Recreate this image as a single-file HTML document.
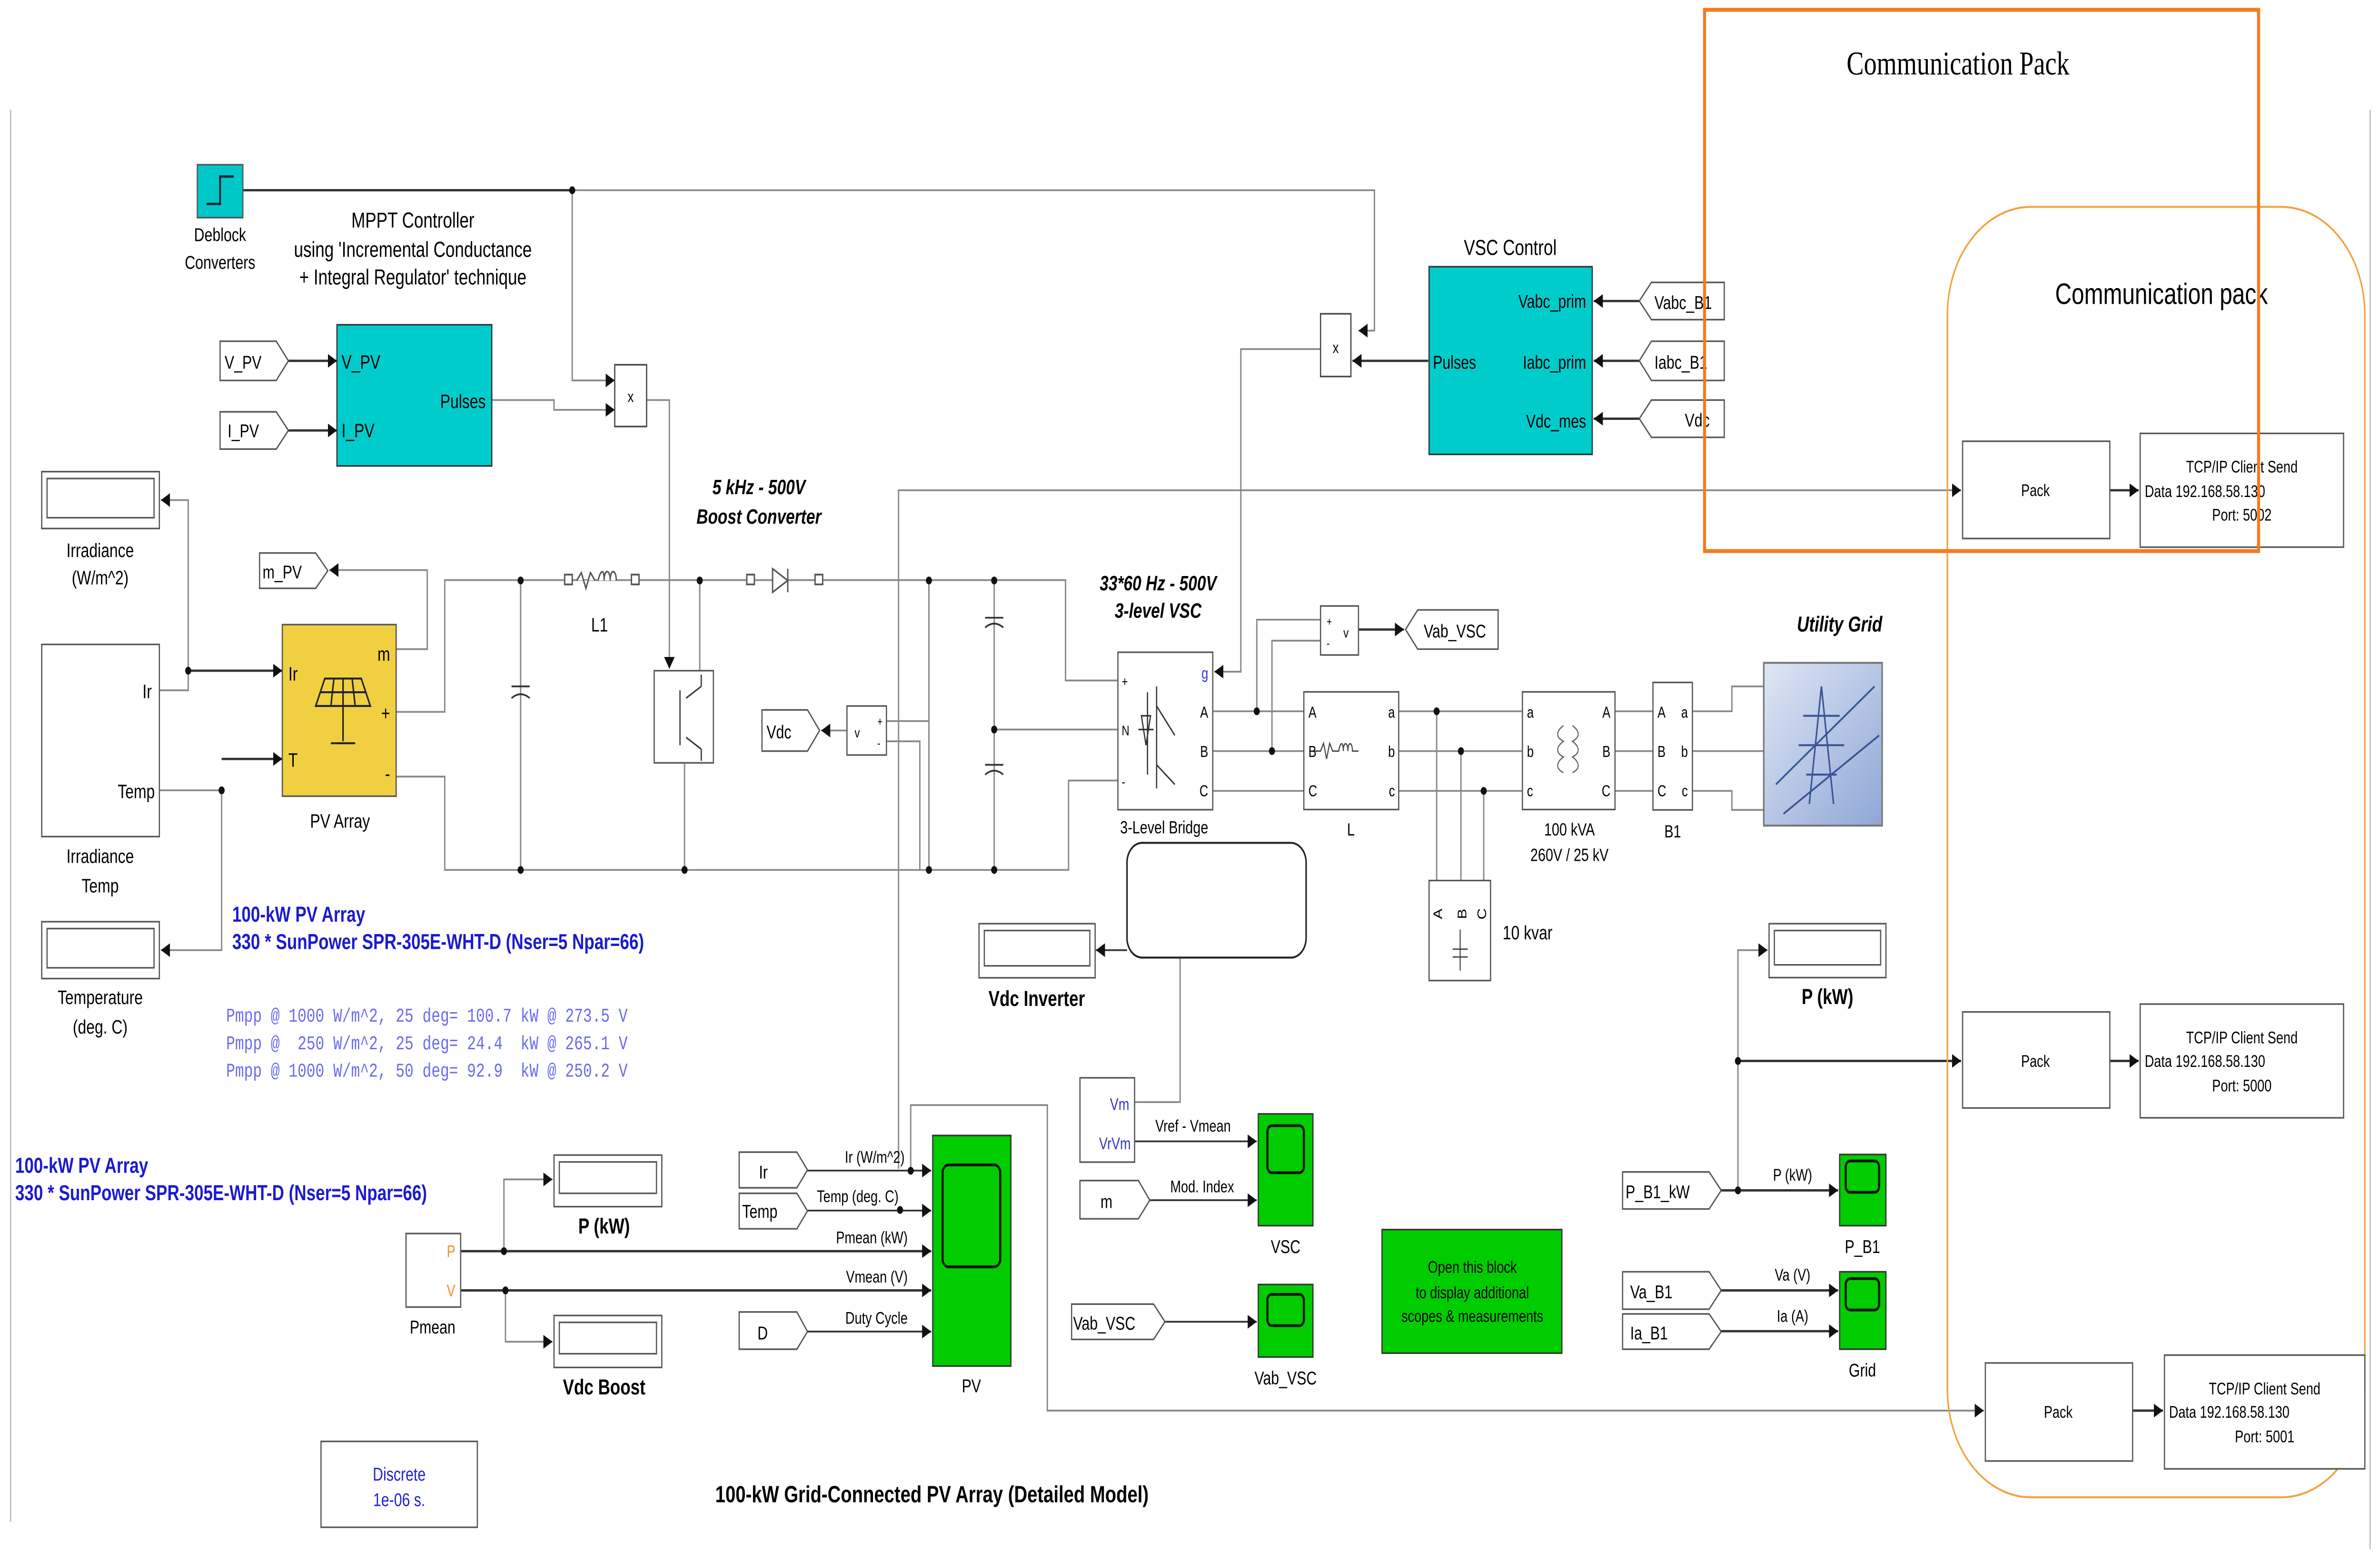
<!DOCTYPE html>
<html><head><meta charset="utf-8"><style>
html,body{margin:0;padding:0;background:#fff;overflow:hidden;width:100vw;height:100vh;}
svg{display:block;position:fixed;left:0;top:0;width:100vw;height:100vh;}
text{font-family:"Liberation Sans",sans-serif;}
.blue{fill:#1a1ad0;}
.mono{font-family:"Liberation Mono",monospace;fill:#6a6af0;}
.orange{fill:#f39020;}
.dblue{fill:#2222d0;}
.vm{fill:#33c;}
</style></head><body>
<svg viewBox="0 0 1568 791.4" preserveAspectRatio="none" xmlns="http://www.w3.org/2000/svg">
<defs>
<marker id="a" markerUnits="userSpaceOnUse" markerWidth="7" markerHeight="7" refX="6" refY="3.5" orient="auto"><path d="M0,0 L6,3.5 L0,7 z" fill="#111"/></marker>
<linearGradient id="g" x1="0" y1="0" x2="1" y2="1"><stop offset="0" stop-color="#dfe7f5"/><stop offset="1" stop-color="#8fa6d6"/></linearGradient>
</defs>
<rect width="1568" height="792" fill="#fff"/>
<line x1="7" y1="56" x2="7" y2="776" stroke="#bbb" stroke-width="0.8"/>
<line x1="1561.5" y1="56" x2="1561.5" y2="790" stroke="#bbb" stroke-width="0.8"/>

<g fill="none" stroke="#888" stroke-width="0.9">
<path d="M160,97 H377" stroke="#333" stroke-width="1.2"/>
<path d="M377,97 H905.5 V168.6 H895" marker-end="url(#a)"/>
<path d="M377,97 V194 H405" marker-end="url(#a)"/>
<path d="M324,204 H365 V209 H405" marker-end="url(#a)"/>
<path d="M426,204 H441 V341" marker-end="url(#a)"/>
<path d="M190,184 H222" stroke="#333" stroke-width="1.2" marker-end="url(#a)"/>
<path d="M190,219.5 H222" stroke="#333" stroke-width="1.2" marker-end="url(#a)"/>
<path d="M105,352 H124 V255 H106" marker-end="url(#a)"/>
<path d="M124,342 H186" stroke="#333" stroke-width="1.2" marker-end="url(#a)"/>
<path d="M105,403 H146 V484.5 H106" marker-end="url(#a)"/>
<path d="M146,387 H186" stroke="#333" stroke-width="1.2" marker-end="url(#a)"/>
<path d="M261,331 H281.5 V290.7 H217" marker-end="url(#a)"/>
<path d="M261,363 H293 V295.8 H702 V347 H736"/>
<path d="M261,396 H293 V443.6 H704 V398 H736"/>
<path d="M655,372 H736"/>
<path d="M343,296 V443.6 M461,296 V342 M451,389 V443.6 M612,296 V443.6 M655,296 V443.6"/>
<path d="M584,367.7 H612 M584,378 H606 V443.6"/>
<path d="M558,372.5 H541" marker-end="url(#a)"/>
<path d="M592,596 V250 H1292" marker-end="url(#a)"/>
<path d="M1390,250 H1409" stroke="#333" stroke-width="1.2" marker-end="url(#a)"/>
<path d="M941,184 H891" stroke="#333" stroke-width="1.2" marker-end="url(#a)"/>
<path d="M870,178 H817.5 V342.5 H800" marker-end="url(#a)"/>
<path d="M1080,153.5 H1050" stroke="#333" stroke-width="1.2" marker-end="url(#a)"/>
<path d="M1080,184 H1050" stroke="#333" stroke-width="1.2" marker-end="url(#a)"/>
<path d="M1080,213.5 H1050" stroke="#333" stroke-width="1.2" marker-end="url(#a)"/>
<path d="M799,362.7 H859 M799,383 H859 M799,403.3 H859"/>
<path d="M921.5,362.7 H1003 M921.5,383 H1003 M921.5,403.3 H1003"/>
<path d="M1064,362.7 H1089 M1064,383 H1089 M1064,403.3 H1089"/>
<path d="M1115,362.7 H1141 V350 H1162 M1115,383 H1162 M1115,403.3 H1141 V413 H1162"/>
<path d="M946.5,362.7 V449 M962.5,383 V449 M977.5,403.3 V449"/>
<path d="M870,316 H828 V362.7 M870,326.7 H838 V383"/>
<path d="M895,321 H925" stroke="#333" stroke-width="1.2" marker-end="url(#a)"/>
<path d="M742.5,484.5 H722" stroke="#333" marker-end="url(#a)"/>
<path d="M747.5,562 H777.5 V488.3"/>
<path d="M747.5,582 H828" stroke="#333" marker-end="url(#a)"/>
<path d="M757.5,612 H828" stroke="#333" marker-end="url(#a)"/>
<path d="M767.5,674 H828" stroke="#333" marker-end="url(#a)"/>
<path d="M1134,607 H1211" stroke="#333" stroke-width="1.2" marker-end="url(#a)"/>
<path d="M1145,607 V484.5 H1164.5" marker-end="url(#a)"/>
<path d="M1145,541 H1292" stroke="#333" stroke-width="1.2" marker-end="url(#a)"/>
<path d="M1390,541 H1409" stroke="#333" stroke-width="1.2" marker-end="url(#a)"/>
<path d="M1134,658 H1211" stroke="#333" stroke-width="1.2" marker-end="url(#a)"/>
<path d="M1134,678.8 H1211" stroke="#333" stroke-width="1.2" marker-end="url(#a)"/>
<path d="M600,597 V563.5 H690 V719.3 H1307" marker-end="url(#a)"/>
<path d="M1405,719.3 H1425" stroke="#333" stroke-width="1.2" marker-end="url(#a)"/>
<path d="M303.5,638 H613.5" stroke="#333" stroke-width="1.2" marker-end="url(#a)"/>
<path d="M303.5,658 H613.5" stroke="#333" stroke-width="1.2" marker-end="url(#a)"/>
<path d="M332,638 V601.4 H364" marker-end="url(#a)"/>
<path d="M333,658 V684.2 H364" marker-end="url(#a)"/>
<path d="M532,596.9 H613.5" stroke="#333" marker-end="url(#a)"/>
<path d="M532,617.3 H613.5" stroke="#333" marker-end="url(#a)"/>
<path d="M532,679 H613.5" stroke="#333" marker-end="url(#a)"/>
</g>
<g fill="#111">
<circle cx="377" cy="97" r="2"/><circle cx="124" cy="342" r="2"/><circle cx="146" cy="403" r="2"/>
<circle cx="343" cy="296" r="2"/><circle cx="461" cy="296" r="2"/><circle cx="612" cy="296" r="2"/><circle cx="655" cy="296" r="2"/>
<circle cx="343" cy="443.6" r="2"/><circle cx="451" cy="443.6" r="2"/><circle cx="612" cy="443.6" r="2"/><circle cx="655" cy="443.6" r="2"/><circle cx="655" cy="372" r="2"/>
<circle cx="828" cy="362.7" r="2"/><circle cx="838" cy="383" r="2"/><circle cx="946.5" cy="362.7" r="2"/><circle cx="962.5" cy="383" r="2"/><circle cx="977.5" cy="403.3" r="2"/>
<circle cx="1145" cy="607" r="2"/><circle cx="1145" cy="541" r="2"/><circle cx="332" cy="638" r="2"/><circle cx="333" cy="658" r="2"/>
<circle cx="600" cy="597" r="2"/><circle cx="593" cy="617" r="2"/>
</g>
<g stroke="#555" fill="none" stroke-width="0.9">
<rect x="372" y="293" width="5" height="5" fill="#fff"/><rect x="416" y="293" width="5" height="5" fill="#fff"/>
<path d="M380,296 l3,-4 l3,8 l3,-8 l3,4 M394,296 c2,-6 4,-6 4,0 c0,-6 4,-6 4,0 c0,-6 4,-6 4,0" fill="#fff"/>
<rect x="492" y="293" width="5" height="5" fill="#fff"/><rect x="537" y="293" width="5" height="5" fill="#fff"/>
<path d="M509,290 V302 L519,296 Z M519,290 V302" fill="#fff"/>
<path d="M337,350 H349 M337,356 q6,-4 12,0" stroke="#333"/>
<path d="M649,315 H661 M649,320 q6,-4 12,0 M649,390 H661 M649,395 q6,-4 12,0" stroke="#333"/>
</g>
<rect x="130" y="84" width="30" height="27" fill="#00c8c8" stroke="#555" stroke-width="0.8"/>
<path d="M136,104 H145 V90 H154" stroke="#123" fill="none" stroke-width="1.2"/>
<text x="145" y="123" font-size="9.5" text-anchor="middle">Deblock</text>
<text x="145" y="137" font-size="9.5" text-anchor="middle">Converters</text>
<text x="272" y="116" font-size="11" text-anchor="middle">MPPT Controller</text>
<text x="272" y="131" font-size="11" text-anchor="middle">using  'Incremental Conductance</text>
<text x="272" y="145" font-size="11" text-anchor="middle">+ Integral Regulator'  technique</text>
<rect x="222" y="165.6" width="102" height="72" fill="#00cccc" stroke="#333" stroke-width="0.8"/>
<text x="225" y="188" font-size="10">V_PV</text><text x="225" y="223" font-size="10">I_PV</text>
<text x="320" y="208" font-size="10" text-anchor="end">Pulses</text>
<rect x="405" y="186" width="21" height="31.5" fill="#fff" stroke="#444" stroke-width="0.8"/><text x="415.5" y="205" font-size="8" text-anchor="middle">x</text>
<rect x="870" y="160" width="20" height="32" fill="#fff" stroke="#444" stroke-width="0.8"/><text x="880" y="180" font-size="8" text-anchor="middle">x</text>
<g fill="#fff" stroke="#555" stroke-width="0.8">
<polygon points="145,174 182,174 190,184 182,194 145,194"/>
<polygon points="145,210 182,210 190,219.5 182,229 145,229"/>
<polygon points="171,282 208,282 216,291 208,300 171,300"/>
<polygon points="502,362 532,362 540,372.5 532,383 502,383"/>
<polygon points="926,321 934,311 987,311 987,331 934,331"/>
<polygon points="1080,153.5 1088,144 1136,144 1136,163 1088,163"/>
<polygon points="1080,184 1088,174 1136,174 1136,194 1088,194"/>
<polygon points="1080,213.5 1088,204 1136,204 1136,223 1088,223"/>
<polygon points="487,587.5 525,587.5 532,596.6 525,605.7 487,605.7"/>
<polygon points="487,608.5 525,608.5 532,617.5 525,626.6 487,626.6"/>
<polygon points="487,669 525,669 532,679 525,688 487,688"/>
<polygon points="711.5,602 750,602 757.5,612 750,621.5 711.5,621.5"/>
<polygon points="706,665 760,665 767.5,674 760,683 706,683"/>
<polygon points="1069,597.6 1126,597.6 1134,607 1126,616.5 1069,616.5"/>
<polygon points="1069,648.5 1126,648.5 1134,658 1126,667.6 1069,667.6"/>
<polygon points="1069,670 1126,670 1134,679 1126,688 1069,688"/>
</g>
<g font-size="9.5">
<text x="148" y="188">V_PV</text><text x="150" y="223">I_PV</text><text x="173" y="295">m_PV</text>
<text x="505" y="376.5">Vdc</text><text x="938" y="325">Vab_VSC</text>
<text x="1090" y="157.5">Vabc_B1</text><text x="1090" y="188">Iabc_B1</text><text x="1110" y="217.5">Vdc</text>
<text x="500" y="601">Ir</text><text x="489" y="621">Temp</text><text x="499" y="683">D</text>
<text x="725" y="616">m</text><text x="707" y="678">Vab_VSC</text>
<text x="1071" y="611">P_B1_kW</text><text x="1074" y="662">Va_B1</text><text x="1074" y="683">Ia_B1</text>
</g>
<g fill="#fff" stroke="#555" stroke-width="0.8">
<rect x="27.5" y="240.5" width="77.5" height="29"/><rect x="31" y="244" width="70.5" height="20"/>
<rect x="27.5" y="470" width="77.5" height="29"/><rect x="31" y="473.5" width="70.5" height="20"/>
<rect x="645" y="471" width="76.5" height="27.6"/><rect x="648.5" y="474.5" width="69.5" height="18"/>
<rect x="365" y="589" width="71" height="26.3"/><rect x="368.5" y="592.5" width="64" height="16"/>
<rect x="365" y="670.8" width="71" height="26.5"/><rect x="368.5" y="674.3" width="64" height="16"/>
<rect x="1165.5" y="471" width="77" height="27.5"/><rect x="1169" y="474.5" width="70" height="17.5"/>
<rect x="27.5" y="328.6" width="77.5" height="98"/>
</g>
<g font-size="10" text-anchor="middle">
<text x="66" y="284">Irradiance</text><text x="66" y="298">(W/m^2)</text>
<text x="66" y="440">Irradiance</text><text x="66" y="455">Temp</text>
<text x="66" y="512">Temperature</text><text x="66" y="527">(deg. C)</text>
</g>
<text x="100" y="356" font-size="10" text-anchor="end">Ir</text>
<text x="102" y="407" font-size="10" text-anchor="end">Temp</text>
<rect x="186" y="318.5" width="75" height="87.5" fill="#f0d040" stroke="#555" stroke-width="0.8"/>
<text x="190" y="347" font-size="10">Ir</text><text x="190" y="391" font-size="10">T</text>
<text x="257" y="337" font-size="10" text-anchor="end">m</text><text x="257" y="367" font-size="10" text-anchor="end">+</text><text x="257" y="398" font-size="10" text-anchor="end">-</text>
<g stroke="#222" stroke-width="1" fill="none"><path d="M208,360 L214,346 H238 L244,360 Z M211,353 H241 M220,346 L218,360 M226,346 V360 M232,346 L234,360 M226,360 V378 M218,379 H234"/></g>
<text x="224" y="422" font-size="10" text-anchor="middle">PV Array</text>
<text x="395" y="322" font-size="10" text-anchor="middle">L1</text>
<rect x="431" y="342" width="39" height="47" fill="#fff" stroke="#555" stroke-width="0.8"/>
<path d="M448,352 V380 M452,356 L462,350 M452,376 L462,382 M462,350 V344 M462,382 V388" stroke="#333" fill="none" stroke-width="0.8"/>
<text x="500" y="252" font-size="10.5" font-weight="bold" font-style="italic" text-anchor="middle">5 kHz - 500V</text>
<text x="500" y="267" font-size="10.5" font-weight="bold" font-style="italic" text-anchor="middle">Boost Converter</text>
<rect x="558" y="360" width="26" height="25" fill="#fff" stroke="#555" stroke-width="0.8"/><text x="563" y="376" font-size="7">v</text><text x="578" y="370" font-size="6">+</text><text x="578" y="381" font-size="6">-</text>
<text x="763" y="301" font-size="10.5" font-weight="bold" font-style="italic" text-anchor="middle">33*60 Hz - 500V</text>
<text x="763" y="315" font-size="10.5" font-weight="bold" font-style="italic" text-anchor="middle">3-level VSC</text>
<rect x="736.5" y="332.6" width="62.5" height="80.3" fill="#fff" stroke="#555" stroke-width="0.8"/>
<path d="M756,353 V395 M762,350 V402 M762,360 L774,375 M762,390 L774,400 M750,372 H760 M752,365 L755,380 L758,365 Z" stroke="#333" fill="none" stroke-width="0.8"/>
<text x="739" y="350" font-size="7">+</text><text x="739" y="375" font-size="7">N</text><text x="739" y="401" font-size="7">-</text>
<text x="796" y="346" font-size="8" class="vm" text-anchor="end">g</text>
<text x="796" y="366" font-size="8" text-anchor="end">A</text><text x="796" y="386" font-size="8" text-anchor="end">B</text><text x="796" y="406" font-size="8" text-anchor="end">C</text>
<text x="767" y="425" font-size="9" text-anchor="middle">3-Level Bridge</text>
<text x="995" y="130" font-size="11" text-anchor="middle">VSC Control</text>
<rect x="941.5" y="136" width="107.5" height="95.7" fill="#00cccc" stroke="#333" stroke-width="0.8"/>
<text x="1045" y="157" font-size="9.5" text-anchor="end">Vabc_prim</text><text x="1045" y="188" font-size="9.5" text-anchor="end">Iabc_prim</text><text x="1045" y="218" font-size="9.5" text-anchor="end">Vdc_mes</text>
<text x="944" y="188" font-size="9.5">Pulses</text>
<rect x="870" y="309" width="25" height="25" fill="#fff" stroke="#555" stroke-width="0.8"/><text x="885" y="325" font-size="7">v</text><text x="874" y="319" font-size="6">+</text><text x="874" y="330" font-size="6">-</text>
<rect x="859" y="352.8" width="62.5" height="60" fill="#fff" stroke="#555" stroke-width="0.8"/>
<path d="M866,383 h4 l2,-4 l2,8 l2,-8 l2,4 h4 c1,-5 3,-5 3,0 c0,-5 3,-5 3,0 c0,-5 3,-5 3,0 h4" stroke="#444" fill="none" stroke-width="0.7"/>
<text x="862" y="366" font-size="8">A</text><text x="862" y="386" font-size="8">B</text><text x="862" y="406" font-size="8">C</text>
<text x="919" y="366" font-size="8" text-anchor="end">a</text><text x="919" y="386" font-size="8" text-anchor="end">b</text><text x="919" y="406" font-size="8" text-anchor="end">c</text>
<text x="890" y="426" font-size="9" text-anchor="middle">L</text>
<rect x="1003" y="352.8" width="61" height="60" fill="#fff" stroke="#555" stroke-width="0.8"/>
<path d="M1030,370 c-5,3 -5,6 0,8 c-5,3 -5,6 0,8 c-5,3 -5,6 0,8 M1036,370 c5,3 5,6 0,8 c5,3 5,6 0,8 c5,3 5,6 0,8" stroke="#666" fill="none" stroke-width="0.7"/>
<text x="1006" y="366" font-size="8">a</text><text x="1006" y="386" font-size="8">b</text><text x="1006" y="406" font-size="8">c</text>
<text x="1061" y="366" font-size="8" text-anchor="end">A</text><text x="1061" y="386" font-size="8" text-anchor="end">B</text><text x="1061" y="406" font-size="8" text-anchor="end">C</text>
<text x="1034" y="426" font-size="9" text-anchor="middle">100 kVA</text><text x="1034" y="439" font-size="9" text-anchor="middle">260V / 25 kV</text>
<rect x="1089" y="348" width="26" height="65" fill="#fff" stroke="#555" stroke-width="0.8"/>
<text x="1092" y="366" font-size="8">A</text><text x="1092" y="386" font-size="8">B</text><text x="1092" y="406" font-size="8">C</text>
<text x="1112" y="366" font-size="8" text-anchor="end">a</text><text x="1112" y="386" font-size="8" text-anchor="end">b</text><text x="1112" y="406" font-size="8" text-anchor="end">c</text>
<text x="1102" y="427" font-size="9" text-anchor="middle">B1</text>
<text x="1212" y="322" font-size="11" font-weight="bold" font-style="italic" text-anchor="middle">Utility Grid</text>
<rect x="1162" y="338" width="78" height="83" fill="url(#g)" stroke="#777" stroke-width="1"/>
<path d="M1200,350 L1192,410 M1200,350 L1208,410 M1188,365 H1212 M1185,380 H1215 M1190,395 H1210 M1170,400 L1235,350 M1175,415 L1238,375" stroke="#3a5595" fill="none" stroke-width="1"/>
<rect x="941.5" y="449" width="40.5" height="51" fill="#fff" stroke="#555" stroke-width="0.8"/>
<text x="950" y="466" font-size="8" transform="rotate(-90 950 466)" text-anchor="middle">A</text>
<text x="966" y="466" font-size="8" transform="rotate(-90 966 466)" text-anchor="middle">B</text>
<text x="979" y="466" font-size="8" transform="rotate(-90 979 466)" text-anchor="middle">C</text>
<path d="M962,474 V495 M957,484 H967 M957,488 H967" stroke="#444" stroke-width="0.7"/>
<text x="990" y="479" font-size="10">10 kvar</text>
<rect x="742.5" y="429.8" width="118" height="58.5" rx="10" fill="#fff" stroke="#222" stroke-width="1"/>
<text x="683" y="513" font-size="11" font-weight="bold" text-anchor="middle">Vdc Inverter</text>
<rect x="711.5" y="549.6" width="36" height="43" fill="#fff" stroke="#555" stroke-width="0.8"/>
<text x="744" y="566" font-size="8.5" class="vm" text-anchor="end">Vm</text><text x="745" y="586" font-size="8.5" class="vm" text-anchor="end">VrVm</text>
<text x="786" y="577" font-size="8.5" text-anchor="middle">Vref - Vmean</text>
<text x="792" y="608" font-size="8.5" text-anchor="middle">Mod. Index</text>
<g fill="#00cc00" stroke="#333" stroke-width="0.8">
<rect x="829" y="568" width="36" height="57"/><rect x="829" y="655" width="36" height="37"/>
<rect x="1212" y="588.7" width="30.5" height="36.3"/><rect x="1212" y="648.5" width="30.5" height="39.5"/>
<rect x="614.5" y="579" width="51.5" height="117.6"/>
</g>
<g fill="none" stroke="#111" stroke-width="1.4">
<rect x="835" y="574" width="24" height="24" rx="3"/><rect x="835" y="660" width="24" height="16" rx="3"/>
<rect x="1216" y="592" width="22" height="16" rx="3"/><rect x="1216" y="652" width="22" height="16" rx="3"/>
<rect x="621" y="594" width="38" height="52" rx="4"/>
</g>
<text x="847" y="639" font-size="9.5" text-anchor="middle">VSC</text>
<text x="847" y="706" font-size="9.5" text-anchor="middle">Vab_VSC</text>
<text x="1227" y="639" font-size="9.5" text-anchor="middle">P_B1</text>
<text x="1227" y="702" font-size="9.5" text-anchor="middle">Grid</text>
<text x="640" y="710" font-size="9.5" text-anchor="middle">PV</text>
<rect x="910.5" y="627" width="118.5" height="63" fill="#00cc00" stroke="#333" stroke-width="0.8"/>
<g font-size="8.5" text-anchor="middle"><text x="970" y="649">Open this block</text><text x="970" y="662">to display additional</text><text x="970" y="674">scopes &amp; measurements</text></g>
<text x="1204" y="512" font-size="11" font-weight="bold" text-anchor="middle">P (kW)</text>
<g font-size="8.5" text-anchor="middle"><text x="1181" y="602">P (kW)</text><text x="1181" y="653">Va (V)</text><text x="1181" y="674">Ia (A)</text></g>
<g font-size="8.5" text-anchor="end"><text x="596" y="593">Ir (W/m^2)</text><text x="592" y="613">Temp (deg. C)</text><text x="598" y="634">Pmean  (kW)</text><text x="598" y="654">Vmean (V)</text><text x="598" y="675">Duty Cycle</text></g>
<rect x="267.5" y="629" width="36" height="37.5" fill="#fff" stroke="#555" stroke-width="0.8"/>
<text x="300" y="641" font-size="8.5" class="orange" text-anchor="end">P</text><text x="300" y="661" font-size="8.5" class="orange" text-anchor="end">V</text>
<text x="285" y="680" font-size="9.5" text-anchor="middle">Pmean</text>
<text x="398" y="629" font-size="11" font-weight="bold" text-anchor="middle">P (kW)</text>
<text x="398" y="711" font-size="11" font-weight="bold" text-anchor="middle">Vdc Boost</text>
<g font-size="11" font-weight="bold">
<text x="153" y="470" class="blue">100-kW  PV Array</text>
<text x="153" y="484" class="blue">330 * SunPower SPR-305E-WHT-D  (Nser=5 Npar=66)</text>
<text x="10" y="598" class="blue">100-kW  PV Array</text>
<text x="10" y="612" class="blue">330 * SunPower SPR-305E-WHT-D  (Nser=5 Npar=66)</text>
</g>
<g font-size="9.8" xml:space="preserve">
<text x="149" y="521" class="mono" xml:space="preserve">Pmpp @ 1000 W/m^2, 25 deg= 100.7 kW @ 273.5 V</text>
<text x="149" y="535" class="mono" xml:space="preserve">Pmpp @  250 W/m^2, 25 deg= 24.4  kW @ 265.1 V</text>
<text x="149" y="549" class="mono" xml:space="preserve">Pmpp @ 1000 W/m^2, 50 deg= 92.9  kW @ 250.2 V</text>
</g>
<rect x="211.5" y="735" width="103" height="43.8" fill="#fff" stroke="#555" stroke-width="0.8"/>
<text x="263" y="755" font-size="9.5" class="dblue" text-anchor="middle">Discrete</text>
<text x="263" y="768" font-size="9.5" class="dblue" text-anchor="middle">1e-06 s.</text>
<text x="614" y="766" font-size="12" font-weight="bold" text-anchor="middle">100-kW Grid-Connected PV Array (Detailed Model)</text>
<rect x="1283" y="105.5" width="275" height="658" rx="55" fill="none" stroke="#f5a040" stroke-width="1"/>
<text x="1424" y="155" font-size="15" text-anchor="middle">Communication pack</text>
<g fill="#fff" stroke="#555" stroke-width="0.8">
<rect x="1293" y="225" width="97" height="49.6"/><rect x="1410" y="221" width="134" height="58"/>
<rect x="1293" y="516" width="97" height="49"/><rect x="1410" y="512" width="134" height="58"/>
<rect x="1308" y="695" width="97" height="50"/><rect x="1426" y="691" width="132" height="58"/>
</g>
<g font-size="8.5">
<text x="1341" y="253" text-anchor="middle">Pack</text><text x="1341" y="544" text-anchor="middle">Pack</text><text x="1356" y="723" text-anchor="middle">Pack</text>
<text x="1477" y="241" text-anchor="middle">TCP/IP Client Send</text><text x="1413" y="253.5">Data  192.168.58.130</text><text x="1477" y="265.5" text-anchor="middle">Port: 5002</text>
<text x="1477" y="532" text-anchor="middle">TCP/IP Client Send</text><text x="1413" y="544">Data  192.168.58.130</text><text x="1477" y="556.5" text-anchor="middle">Port: 5000</text>
<text x="1492" y="711" text-anchor="middle">TCP/IP Client Send</text><text x="1429" y="723">Data  192.168.58.130</text><text x="1492" y="735.5" text-anchor="middle">Port: 5001</text>
</g>
<rect x="1123" y="5" width="365" height="276" fill="none" stroke="#f47a20" stroke-width="2"/>
<text x="1290" y="38" font-size="17" text-anchor="middle" style="font-family:'Liberation Serif',serif">Communication Pack</text>
</svg>
</body></html>
